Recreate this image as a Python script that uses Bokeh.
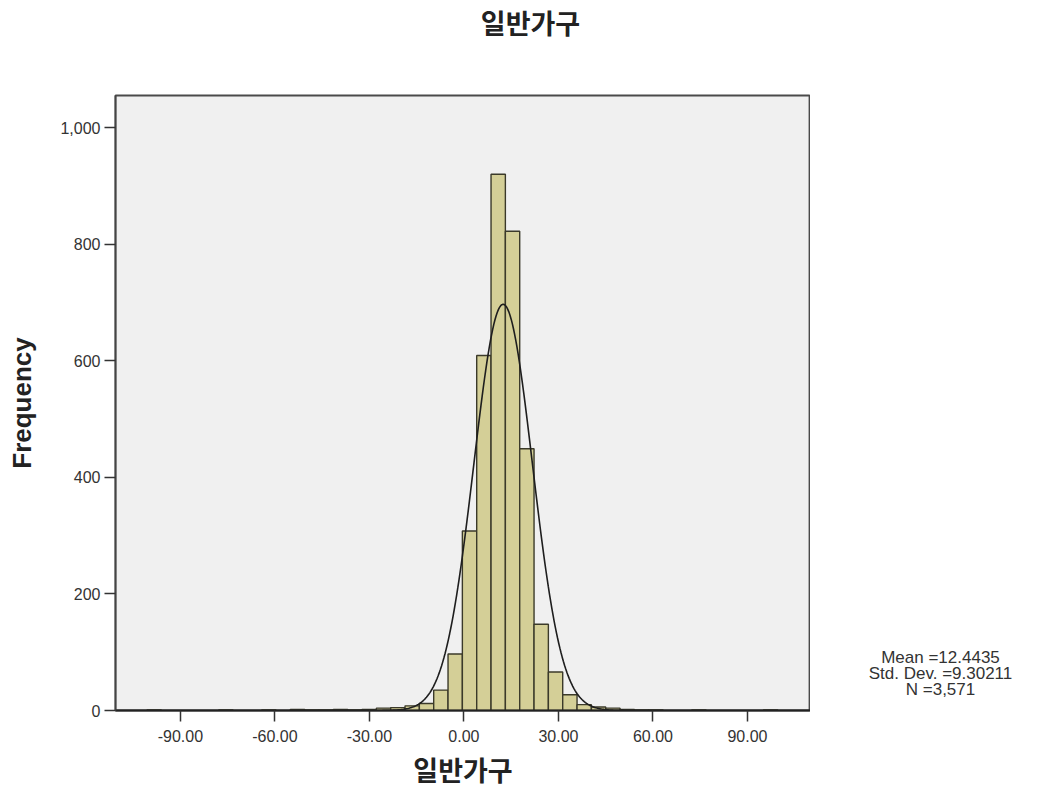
import numpy as np
from bokeh.plotting import figure
from bokeh.layouts import column, row
from bokeh.models import FixedTicker, PrintfTickFormatter, NumeralTickFormatter, Range1d
from bokeh.core.properties import value
from bokeh.embed import file_html
from bokeh.resources import INLINE

# Histogram of 일반가구 values: bin lower edges and counts
bin_width = 4.55
bin_left = [-100.6, -77.85, -64.2, -55.1, -50.55, -46.0, -41.45, -36.9, -32.35, -27.8,
            -23.25, -18.7, -14.15, -9.6, -5.05, -0.5, 4.05, 8.6, 13.15, 17.7,
            22.25, 26.8, 31.35, 35.9, 40.45, 45.0, 49.55, 54.1, 58.65, 72.3, 95.05]
counts = [1, 1, 1, 2, 1, 1, 2, 1, 2, 4,
          5, 8, 12, 35, 97, 308, 609, 920, 822, 449,
          148, 66, 27, 10, 6, 4, 2, 1, 1, 1, 1]

# Summary statistics shown beside the chart
mean = 12.4435
std_dev = 9.30211
n_total = 3571

x_ticks = [-90, -60, -30, 0, 30, 60, 90]
y_ticks = [0, 200, 400, 600, 800, 1000]

title_text = "일반가구"
x_label = "일반가구"
y_label = "Frequency"
stats = ["Mean =12.4435", "Std. Dev. =9.30211", "N =3,571"]

font = "Liberation Sans"
kfont = "Noto Sans CJK KR"

BORDER_TOP = 45
BORDER_BOTTOM = 81
PANEL_H = 741


def blank(width, height, top=0, bottom=0):
    f = figure(width=width, height=height, output_backend="svg", toolbar_location=None,
               x_range=Range1d(0, width), y_range=Range1d(0, height - top - bottom),
               x_axis_location=None, y_axis_location=None, min_border=0,
               min_border_top=top, min_border_bottom=bottom)
    f.outline_line_color = None
    f.xgrid.visible = False
    f.ygrid.visible = False
    f.background_fill_color = "white"
    return f


# Title strip
top = blank(1050, 50)
top.text(x=[530], y=[28], text=[title_text], text_font=value(kfont), text_font_style="bold",
         text_font_size="27px", text_color="#222222", text_align="center", text_baseline="middle")

# Main histogram
p = figure(width=810, height=PANEL_H, output_backend="svg", toolbar_location=None,
           x_range=Range1d(-110.6, 110.0), y_range=Range1d(0, 1055),
           min_border_left=115, min_border_right=0,
           min_border_top=BORDER_TOP, min_border_bottom=BORDER_BOTTOM)

p.background_fill_color = "#f0f0f0"
p.border_fill_color = "white"
p.outline_line_color = "#4a4a4a"
p.outline_line_width = 1.8
p.xgrid.visible = False
p.ygrid.visible = False

left = np.array(bin_left)
p.quad(left=left, right=left + bin_width, bottom=0, top=counts,
       fill_color="#d4cf97", line_color="#3b3a2a", line_width=1.4)

# Fitted normal curve scaled to the histogram
xs = np.linspace(-110.6, 110.0, 600)
ys = n_total * bin_width * np.exp(-0.5 * ((xs - mean) / std_dev) ** 2) / (std_dev * np.sqrt(2 * np.pi))
p.line(xs, ys, line_color="#1e1e1e", line_width=1.6)

xa = p.xaxis[0]
xa.ticker = FixedTicker(ticks=x_ticks)
xa.formatter = PrintfTickFormatter(format="%.2f")
xa.axis_line_color = "#222222"
xa.axis_line_width = 2
xa.major_tick_in = 0
xa.major_tick_out = 11
xa.major_tick_line_color = "#333333"
xa.major_tick_line_width = 1.5
xa.minor_tick_line_color = None
xa.major_label_text_font = font
xa.major_label_text_font_size = "16px"
xa.major_label_text_color = "#333333"
xa.major_label_standoff = 8
xa.axis_label = x_label
xa.axis_label_text_font = kfont
xa.axis_label_text_font_style = "bold"
xa.axis_label_text_font_size = "27px"
xa.axis_label_text_color = "#222222"
xa.axis_label_standoff = 5

ya = p.yaxis[0]
ya.ticker = FixedTicker(ticks=y_ticks)
ya.formatter = NumeralTickFormatter(format="0,0")
ya.axis_line_color = "#444444"
ya.axis_line_width = 1.8
ya.major_tick_in = 0
ya.major_tick_out = 11
ya.major_tick_line_color = "#333333"
ya.major_tick_line_width = 1.5
ya.minor_tick_line_color = None
ya.major_label_text_font = font
ya.major_label_text_font_size = "16px"
ya.major_label_text_color = "#333333"
ya.major_label_standoff = 4
ya.axis_label = y_label
ya.axis_label_text_font = font
ya.axis_label_text_font_style = "bold"
ya.axis_label_text_font_size = "26px"
ya.axis_label_text_color = "#222222"
ya.axis_label_standoff = 20

# Summary statistics panel to the right (frame shares the histogram's vertical extent)
side = blank(240, PANEL_H, top=BORDER_TOP, bottom=BORDER_BOTTOM)
side.text(x=[130, 130, 130], y=[53, 37, 21], text=stats, text_font=value(font),
          text_font_size="17px", text_color="#333333", text_align="center", text_baseline="middle")

layout = column(top, row(p, side, spacing=0), spacing=0)
open("out.html", "w").write(file_html(layout, INLINE))
